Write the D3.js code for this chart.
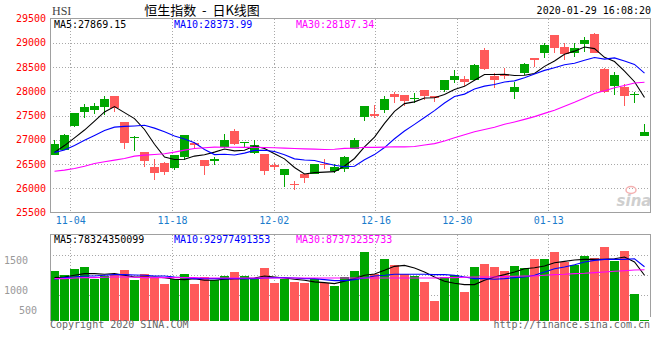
<!DOCTYPE html>
<html><head><meta charset="utf-8">
<script src="https://cdn.jsdelivr.net/npm/d3@7"></script>
<style>
html,body{margin:0;padding:0;background:#fff;}
svg{display:block;}
</style></head>
<body><svg id="chart" width="660" height="360"></svg>
<script>
const dates = ["10-31","11-01","11-04","11-05","11-06","11-07","11-08","11-11","11-12","11-13","11-14","11-15","11-18","11-19","11-20","11-21","11-22","11-25","11-26","11-27","11-28","11-29","12-02","12-03","12-04","12-05","12-06","12-09","12-10","12-11","12-12","12-13","12-16","12-17","12-18","12-19","12-20","12-23","12-24","12-27","12-30","12-31","01-02","01-03","01-06","01-07","01-08","01-09","01-10","01-13","01-14","01-15","01-16","01-17","01-20","01-21","01-22","01-23","01-24","01-29"];
const open  = [26690,26790,27281,27570,27612,27680,27900,27364,27040,26744,26435,26517,26421,26641,26930,26580,26560,26855,27185,26930,26731,26703,26476,26270,26090,26290,26304,26510,26359,26387,26813,27474,27529,27611,27948,27921,27832,28024,27900,28024,28231,28251,28231,28850,28313,28360,27990,28368,28685,28781,29159,28919,28795,28974,29180,28451,28107,28093,27942,27081];
const high  = [26992,27110,27560,27735,27749,27900,27910,27370,27075,26744,26607,26540,26683,27100,26945,26585,26648,27109,27220,26958,26993,26703,26524,26391,26153,26290,26510,26599,26510,26662,27040,27694,27715,27907,27990,27921,27962,28024,27910,28231,28437,28313,28561,28898,28382,28485,28196,28575,28685,29001,29170,29001,28987,29125,29207,28485,28402,28148,27990,27322];
const low   = [26680,26780,27270,27453,27529,27508,27577,26806,26772,26435,26167,26270,26380,26580,26806,26270,26476,26820,26890,26840,26700,26270,26373,26029,25974,26112,26290,26407,26318,26339,26813,27391,27440,27556,27763,27694,27749,27818,27783,27990,28162,28107,28231,28437,28059,28245,27838,28340,28506,28678,28795,28644,28712,28815,28795,27969,27921,27701,27763,27081];
const close = [26906,27101,27547,27683,27688,27847,27651,26926,27065,26571,26323,26327,26682,27094,26889,26467,26595,26993,26913,26954,26894,26346,26445,26391,26063,26218,26498,26495,26437,26646,26994,27688,27508,27844,27884,27800,27871,27906,27864,28225,28319,28190,28544,28452,28226,28322,28087,28562,28638,28955,28885,28774,28883,29056,28795,27985,28341,27909,27950,27160];
const ma5  = [26740,26880,27040,27200,27385,27573,27683,27559,27435,27212,26907,26642,26594,26599,26663,26692,26745,26808,26771,26784,26870,26820,26710,26606,26428,26293,26323,26333,26342,26459,26614,26852,27055,27336,27584,27745,27781,27861,27865,27933,28037,28101,28228,28346,28346,28347,28326,28330,28367,28513,28625,28763,28827,28911,28879,28699,28612,28417,28196,27870];
const ma10 = [26740,26790,26880,26990,27090,27190,27260,27275,27285,27299,27240,27163,27076,27017,26938,26800,26694,26701,26685,26724,26781,26783,26759,26689,26606,26581,26572,26522,26474,26443,26453,26588,26694,26839,27021,27179,27317,27458,27601,27758,27891,27941,28045,28106,28140,28192,28214,28279,28357,28430,28486,28545,28578,28639,28696,28662,28687,28622,28553,28374];
const ma30 = [26352,26373,26407,26455,26511,26545,26580,26614,26662,26683,26696,26710,26745,26786,26820,26834,26848,26845,26845,26843,26842,26841,26835,26828,26820,26812,26806,26800,26805,26822,26825,26844,26843,26848,26855,26853,26861,26893,26920,26975,27042,27104,27166,27211,27256,27318,27367,27420,27477,27544,27610,27691,27772,27861,27952,28011,28073,28120,28170,28187];
// turnover (亿)
const volume = [850,782,889,918,726,770,782,867,697,799,753,629,714,799,629,753,697,770,833,770,726,901,646,726,663,646,726,646,595,748,850,1178,799,1059,952,799,765,663,340,748,782,493,918,969,918,850,935,901,1059,1059,1178,1008,957,1110,1076,1263,1025,1195,459,17];
const vma5  = [742,754,782,810,810,799,810,782,754,754,754,742,714,708,725,697,697,714,725,725,737,771,754,737,714,697,669,657,640,680,725,782,805,867,935,952,907,839,754,680,646,623,623,697,754,793,839,895,912,941,997,1020,1043,1054,1054,1054,1065,1094,1009,783];
const vma10 = [714,742,754,771,771,782,793,793,788,782,771,771,754,742,725,725,725,725,725,725,725,737,742,742,737,725,725,708,691,691,708,737,771,782,799,799,799,799,793,793,782,754,725,725,714,725,742,754,782,839,895,924,963,1009,1037,1054,1054,1054,1065,929];
const vma30 = [725,725,737,742,742,748,754,754,748,742,742,742,742,742,742,737,737,737,737,737,737,737,737,737,737,737,737,737,737,737,737,737,737,737,737,737,737,737,737,742,742,748,754,754,754,759,765,771,771,782,793,799,810,816,827,839,850,861,873,878];
const priceTicks = [29500,29000,28500,28000,27500,27000,26500,26000,25500];
const dateTicks = ["11-04","11-18","12-02","12-16","12-30","01-13"];
const volTickLabels = [1500,1000,500];
const priceMALabels = ["MA5:27869.15","MA10:28373.99","MA30:28187.34"];
const volMALabels = ["MA5:78324350099","MA10:92977491353","MA30:87373235733"];
const title = "恒生指数 - 日K线图";
const stamp = "2020-01-29 16:08:20";

const svg = d3.select("#chart");
const L = 50, R = 650, pTop = 18.5, pBot = 212.5, vTop = 234.5, vBot = 321;
const UP = "#00a600", DOWN = "#ff5a5a";
const maColors = ["#000000","#0000ff","#ff00ff"];

const x = d3.scaleBand().domain(dates).range([L, R - 1]).paddingInner(0.1).paddingOuter(0);
const bw = x.bandwidth();
const cx = d => Math.floor(x(d) + bw / 2) + 0.5;
const gx = d3.scaleLinear().domain([0, dates.length - 1]).range([L, R]);
const y = d3.scaleLinear().domain([25500, 29500]).range([pBot, pTop]);
const yv = d3.scaleLinear().domain([0, 1480]).range([vBot, vTop]);
const yvLab = d3.scaleLinear().domain([1500, 1000, 500]).range([260.5, 290.5, 310.5]);

svg.append("rect").attr("width", 660).attr("height", 360).attr("fill", "#fff");

// grids
const grid = svg.append("g").attr("stroke", "#a8a8a8").attr("stroke-dasharray", "1,2").attr("shape-rendering", "crispEdges");
grid.selectAll(".hg").data(priceTicks.slice(1, -1)).join("line").attr("class", "hg")
  .attr("x1", L).attr("x2", R).attr("y1", d => Math.round(y(d)) + 0.5).attr("y2", d => Math.round(y(d)) + 0.5);
grid.selectAll(".vg").data(dateTicks).join("line").attr("class", "vg")
  .attr("x1", d => Math.round(gx(dates.indexOf(d))) + 0.5).attr("x2", d => Math.round(gx(dates.indexOf(d))) + 0.5)
  .attr("y1", pTop).attr("y2", pBot);
grid.selectAll(".vhg").data([255.5, 275.5, 295.5]).join("line").attr("class", "vhg")
  .attr("x1", L).attr("x2", R).attr("y1", d => d).attr("y2", d => d);
grid.selectAll(".vvg").data(dateTicks).join("line").attr("class", "vvg")
  .attr("x1", d => Math.round(gx(dates.indexOf(d))) + 0.5).attr("x2", d => Math.round(gx(dates.indexOf(d))) + 0.5)
  .attr("y1", vTop).attr("y2", vBot);

// watermark
const wm = svg.append("g");
wm.append("text").attr("x", 634).attr("y", 206).attr("text-anchor", "middle")
  .attr("font-family", "DejaVu Sans").attr("font-style", "italic").attr("font-weight", "bold")
  .attr("font-size", 15).attr("fill", "#cfcfcf").text("sina");
wm.append("ellipse").attr("cx", 631).attr("cy", 190).attr("rx", 5).attr("ry", 3.5)
  .attr("fill", "none").attr("stroke", "#f4b0b0").attr("stroke-width", 1.5);

// candles
const candles = svg.append("g").attr("shape-rendering", "crispEdges");
const idx = d3.range(dates.length);
candles.selectAll("line").data(idx).join("line")
  .attr("x1", i => cx(dates[i])).attr("x2", i => cx(dates[i]))
  .attr("y1", i => y(high[i])).attr("y2", i => y(low[i]))
  .attr("stroke", i => close[i] >= open[i] ? UP : DOWN);
candles.selectAll("rect").data(idx).join("rect")
  .attr("x", i => x(dates[i])).attr("width", bw)
  .attr("y", i => y(Math.max(open[i], close[i])))
  .attr("height", i => Math.max(1.5, Math.abs(y(open[i]) - y(close[i]))))
  .attr("fill", i => close[i] >= open[i] ? UP : DOWN);

// price MAs
const pline = d3.line().x((d, i) => x(dates[i]) + bw / 2).y(d => y(d));
[ma5, ma10, ma30].forEach((s, k) => {
  svg.append("path").attr("d", pline(s)).attr("fill", "none")
    .attr("stroke", maColors[k]).attr("stroke-width", 1.1);
});

// volume bars
svg.append("g").attr("shape-rendering", "crispEdges").selectAll("rect").data(idx).join("rect")
  .attr("x", i => x(dates[i])).attr("width", bw)
  .attr("y", i => yv(volume[i])).attr("height", i => Math.max(1, vBot - yv(volume[i])))
  .attr("fill", i => close[i] >= open[i] ? UP : DOWN);
const vline = d3.line().x((d, i) => x(dates[i]) + bw / 2).y(d => yv(d));
[vma5, vma10, vma30].forEach((s, k) => {
  svg.append("path").attr("d", vline(s)).attr("fill", "none")
    .attr("stroke", maColors[k]).attr("stroke-width", 1.1);
});

// frames
svg.append("rect").attr("x", L + 0.5).attr("y", pTop).attr("width", R - L).attr("height", pBot - pTop)
  .attr("fill", "none").attr("stroke", "#a0a0a0").attr("stroke-width", 1.2).attr("shape-rendering", "crispEdges");
svg.append("path").attr("d", `M${L + 0.5},${vBot}V${vTop}H${R + 0.5}V${vBot - 4}`)
  .attr("fill", "none").attr("stroke", "#a0a0a0").attr("stroke-width", 1.2).attr("shape-rendering", "crispEdges");

// axes
const ya = svg.append("g").attr("transform", `translate(${L - 1},0)`)
  .call(d3.axisLeft(y).tickValues(priceTicks).tickSize(0).tickPadding(3).tickFormat(d3.format("d")));
ya.select(".domain").remove();
ya.selectAll("text").attr("fill", "#ff0000")
  .attr("font-family", "DejaVu Sans Mono").attr("font-size", 10);

const xa = svg.append("g").attr("transform", `translate(0,${pBot})`)
  .call(d3.axisBottom(gx).tickValues(dateTicks.map(d => dates.indexOf(d))).tickSize(0).tickPadding(4).tickFormat(i => dates[i]));
xa.select(".domain").remove();
xa.selectAll("text").attr("fill", "#1a7ccc").attr("font-family", "DejaVu Sans Mono").attr("font-size", 10);

svg.append("g").selectAll("text").data(volTickLabels).join("text")
  .attr("x", d => d >= 1000 ? 28 : 37).attr("y", d => yvLab(d)).attr("dy", "0.35em")
  .attr("text-anchor", "end").attr("font-family", "DejaVu Sans Mono").attr("font-size", 10)
  .attr("fill", "#999").text(d => d);

// header
svg.append("text").attr("x", 52).attr("y", 15).attr("font-family", "Liberation Serif").attr("font-size", 12)
  .attr("fill", "#444").text("HSI");
svg.append("text").attr("x", 202).attr("y", 15).attr("text-anchor", "middle")
  .attr("font-family", "Noto Sans CJK SC").attr("font-size", 13).attr("fill", "#000")
  .attr("word-spacing", 3).text(title);
svg.append("text").attr("x", 651).attr("y", 14).attr("text-anchor", "end")
  .attr("font-family", "DejaVu Sans Mono").attr("font-size", 10).attr("fill", "#000").text(stamp);

const labX = [54, 174, 296];
svg.append("g").selectAll("text").data(priceMALabels).join("text")
  .attr("x", (d, k) => labX[k]).attr("y", 28).attr("font-family", "DejaVu Sans Mono").attr("font-size", 10)
  .attr("fill", (d, k) => maColors[k]).text(d => d);
svg.append("g").selectAll("text").data(volMALabels).join("text")
  .attr("x", (d, k) => labX[k]).attr("y", 243).attr("font-family", "DejaVu Sans Mono").attr("font-size", 10)
  .attr("fill", (d, k) => maColors[k]).text(d => d);

// footer
svg.append("text").attr("x", 50).attr("y", 328).attr("font-family", "DejaVu Sans Mono").attr("font-size", 10)
  .attr("fill", "#666").text("Copyright 2020 SINA.COM");
svg.append("text").attr("x", 650).attr("y", 328).attr("text-anchor", "end").attr("font-family", "DejaVu Sans Mono").attr("font-size", 10)
  .attr("fill", "#666").text("http://finance.sina.com.cn");
</script></body></html>
